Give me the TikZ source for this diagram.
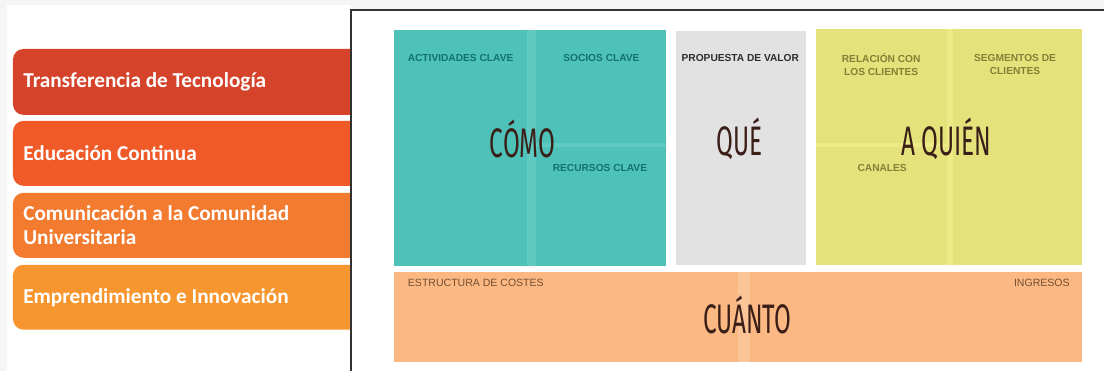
\documentclass[tikz,border=0pt]{standalone}
\usepackage{fontspec}
\usepackage{tikz}
\usetikzlibrary{positioning}
\newfontfamily\lanefont{Carlito}
\newfontfamily\tagfont{Liberation Sans}
\newfontfamily\bigfont{Fira Sans}
\definecolor{paper}{RGB}{245,245,245}
\definecolor{frameC}{RGB}{50,50,50}
\definecolor{laneA}{RGB}{213,67,42}
\definecolor{laneB}{RGB}{240,90,40}
\definecolor{laneC}{RGB}{242,123,48}
\definecolor{laneD}{RGB}{247,150,46}
\definecolor{teal}{RGB}{78,193,185}
\definecolor{tealS}{RGB}{96,201,193}
\definecolor{tealT}{RGB}{18,115,106}
\definecolor{greyB}{RGB}{227,226,226}
\definecolor{greyT}{RGB}{45,45,45}
\definecolor{yellT}{RGB}{130,128,55}
\definecolor{yell}{RGB}{229,226,123}
\definecolor{yellS}{RGB}{237,235,134}
\definecolor{oran}{RGB}{251,184,130}
\definecolor{oranS}{RGB}{252,197,152}
\definecolor{oranT}{RGB}{115,78,50}
\definecolor{brownT}{RGB}{58,30,24}
\tikzset{
  lane/.style={rounded corners=6pt},
  lanetxt/.style={anchor=west,inner sep=0pt,text=white,align=left,
    font=\lanefont\bfseries\fontsize{12.1}{13.6}\selectfont},
  tag/.style={inner sep=0pt,align=center,font=\tagfont\bfseries\fontsize{5.8}{7.4}\selectfont},
  thintag/.style={inner sep=0pt,font=\tagfont\fontsize{6}{7.4}\selectfont},
  big/.style={inner sep=0pt,text=brownT,xscale=0.59,
    font=\bigfont\fontsize{23.5}{23.5}\selectfont},
}
\begin{document}
\begin{tikzpicture}[x=0.02cm,y=-0.02cm]
% background
\fill[paper] (0,0) rectangle (1105,371);
\fill[white] (7,5) rectangle (351,371);
% left lanes
\fill[lane,laneA] (13,49) rectangle (362,115);
\fill[lane,laneB] (13,121) rectangle (362,186);
\fill[lane,laneC] (13,193) rectangle (362,258);
\fill[lane,laneD] (13,265) rectangle (362,330);
\node[lanetxt] (transf) at (23,82) {Transferencia de Tecnología};
\node[lanetxt] (educ) at (23,153.5) {Educación Continua};
\node[lanetxt] (comun) at (23,225.5) {Comunicación a la Comunidad\\Universitaria};
\node[lanetxt] (empr) at (23,297.5) {Emprendimiento e Innovación};
% canvas panel
\fill[white] (351,10) rectangle (1105,371);
\draw[frameC,line width=1.2pt] (351,371) -- (351,10) -- (1105,10);
% blocks
\fill[teal] (394,30) rectangle (667,266);
\fill[tealS] (527,30) rectangle (537,266);
\fill[tealS] (537,143) rectangle (667,147);
\fill[greyB] (677,31) rectangle (807,265);
\fill[yell] (817,29) rectangle (1083,265);
\fill[yellS] (948,29) rectangle (954,265);
\fill[yellS] (817,143) rectangle (948,147);
\fill[oran] (394,272) rectangle (1083,362);
\fill[oranS] (739,272) rectangle (751,362);
% small tags
\node[tag,text=tealT] (activ) at (461,58) {ACTIVIDADES CLAVE};
\node[tag,text=tealT] (socios) at (602,58) {SOCIOS CLAVE};
\node[tag,text=tealT] (recur) at (600.5,168) {RECURSOS CLAVE};
\node[tag,text=greyT] (prop) at (741,58) {PROPUESTA DE VALOR};
\node[tag,text=yellT] (relac) at (882,64.5) {RELACIÓN CON\\LOS CLIENTES};
\node[tag,text=yellT] (segm) at (1016,64.5) {SEGMENTOS DE\\CLIENTES};
\node[tag,text=yellT] (canal) at (883,168) {CANALES};
\node[thintag,text=oranT,anchor=west] (costes) at (408,283) {ESTRUCTURA DE COSTES};
\node[thintag,text=oranT,anchor=east] (ingr) at (1071,283) {INGRESOS};
% big words
\node[big] (como) at (523,139) {CÓMO};
\node[big] (que) at (740,139) {QUÉ};
\node[big] (quien) at (947,139) {A QUIÉN};
\node[big] (cuanto) at (748,315) {CUÁNTO};
\end{tikzpicture}
\end{document}
